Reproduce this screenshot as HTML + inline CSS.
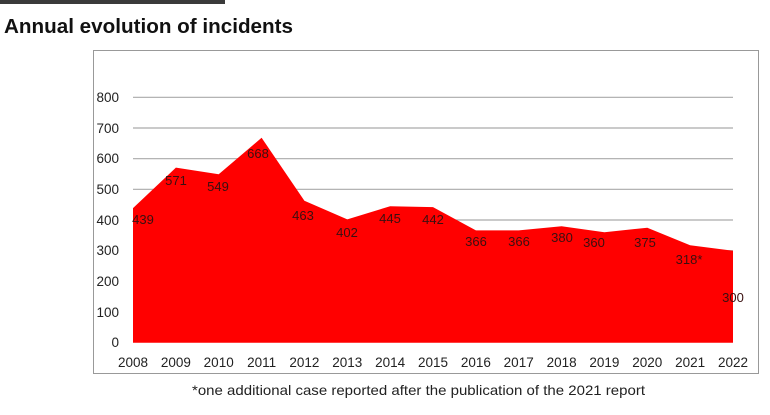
<!DOCTYPE html>
<html><head><style>
body{margin:0;background:#fff;}
svg text{font-family:"Liberation Sans",sans-serif;}
</style></head><body>
<svg width="770" height="410" viewBox="0 0 770 410" xmlns="http://www.w3.org/2000/svg">
<rect x="0" y="0" width="225" height="4" fill="#3a3a3a"/>
<text x="4" y="33" font-size="20" font-weight="bold" fill="#111" textLength="289" lengthAdjust="spacingAndGlyphs">Annual evolution of incidents</text>
<rect x="93.5" y="50.5" width="665" height="323" fill="#fff" stroke="#999" stroke-width="1"/>
<g stroke="#aaa" stroke-width="1.2">
<line x1="133" x2="733" y1="97.3" y2="97.3"/>
<line x1="133" x2="733" y1="128" y2="128"/>
<line x1="133" x2="733" y1="158.7" y2="158.7"/>
<line x1="133" x2="733" y1="189.3" y2="189.3"/>
<line x1="133" x2="733" y1="220" y2="220"/>
<line x1="133" x2="733" y1="250.7" y2="250.7"/>
<line x1="133" x2="733" y1="281.3" y2="281.3"/>
<line x1="133" x2="733" y1="312" y2="312"/>
</g>
<polygon fill="#ff0000" points="133,342.7 133,208.1 175.9,167.6 218.7,174.3 261.6,137.8 304.4,200.7 347.3,219.4 390.1,206.2 433,207.1 475.9,230.4 518.7,230.4 561.6,226.2 604.4,232.3 647.3,227.7 690.1,245.2 733,250.7 733,342.7"/>
<g font-size="13.5" fill="#222" text-anchor="end">
<text x="119" y="102">800</text><text x="119" y="133">700</text><text x="119" y="163">600</text>
<text x="119" y="194">500</text><text x="119" y="225">400</text><text x="119" y="255">300</text>
<text x="119" y="286">200</text><text x="119" y="317">100</text><text x="119" y="347">0</text>
</g>
<g font-size="13.5" fill="#222" text-anchor="middle">
<text x="133" y="367">2008</text><text x="175.9" y="367">2009</text><text x="218.7" y="367">2010</text>
<text x="261.6" y="367">2011</text><text x="304.4" y="367">2012</text><text x="347.3" y="367">2013</text>
<text x="390.1" y="367">2014</text><text x="433" y="367">2015</text><text x="475.9" y="367">2016</text>
<text x="518.7" y="367">2017</text><text x="561.6" y="367">2018</text><text x="604.4" y="367">2019</text>
<text x="647.3" y="367">2020</text><text x="690.1" y="367">2021</text><text x="733" y="367">2022</text>
</g>
<g font-size="13" fill="#3a1010" text-anchor="middle">
<text x="143" y="224">439</text><text x="176" y="185">571</text><text x="218" y="191">549</text>
<text x="258" y="158">668</text><text x="303" y="220">463</text><text x="347" y="237">402</text>
<text x="390" y="223">445</text><text x="433" y="224">442</text><text x="476" y="246">366</text>
<text x="519" y="246">366</text><text x="562" y="242">380</text><text x="594" y="247">360</text>
<text x="645" y="247">375</text><text x="689" y="264">318*</text><text x="733" y="302">300</text>
</g>
<text x="192" y="395" font-size="14" fill="#222" textLength="453" lengthAdjust="spacingAndGlyphs">*one additional case reported after the publication of the 2021 report</text>
</svg>
</body></html>
